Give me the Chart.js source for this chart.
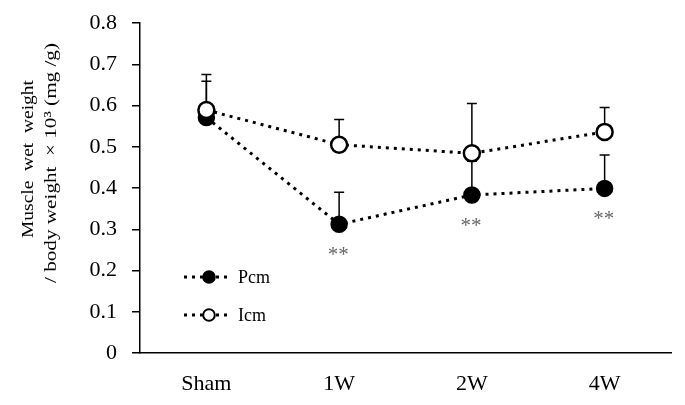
<!DOCTYPE html>
<html>
<head>
<meta charset="utf-8">
<script src="https://cdn.jsdelivr.net/npm/chart.js@4.4.0/dist/chart.umd.min.js"></script>
<style>
html,body{margin:0;padding:0;background:#fff;}
#wrap{width:685px;height:405px;position:relative;}
</style>
</head>
<body>
<div id="wrap"><canvas id="c" width="685" height="405"></canvas></div>
<script>
const categories = ["Sham", "1W", "2W", "4W"];
const pcmValues = [0.571, 0.312, 0.383, 0.399];
const pcmErrUpper = [0.659, 0.390, 0.465, 0.480];
const icmValues = [0.589, 0.505, 0.484, 0.536];
const icmErrUpper = [0.675, 0.566, 0.605, 0.595];
const pcmSignif = ["", "**", "**", "**"];
const yTicks = [0, 0.1, 0.2, 0.3, 0.4, 0.5, 0.6, 0.7, 0.8];
const seriesNames = ["Pcm", "Icm"];
const yTitleLines = ["Muscle  wet  weight", "/ body weight  \u00d7 10\u00b3 (mg /g)"];

const SERIF = '"Liberation Serif", "Times New Roman", serif';

function drawFitText(ctx, text, cx, cy, font, targetLen) {
  ctx.save();
  ctx.translate(cx, cy);
  ctx.rotate(-Math.PI / 2);
  ctx.font = font;
  const w = ctx.measureText(text).width;
  ctx.scale(targetLen / w, 1);
  ctx.textAlign = 'center';
  ctx.textBaseline = 'middle';
  ctx.fillStyle = '#000';
  ctx.fillText(text, 0, 0);
  ctx.restore();
}

const errorBarPlugin = {
  id: 'errBars',
  beforeDatasetsDraw(chart) {
    const ctx = chart.ctx;
    const x = chart.scales.x, y = chart.scales.y;
    const sets = [[pcmValues, pcmErrUpper], [icmValues, icmErrUpper]];
    ctx.save();
    ctx.strokeStyle = '#000';
    ctx.lineWidth = 1.5;
    sets.forEach(([vals, ups]) => {
      vals.forEach((v, i) => {
        const px = x.getPixelForValue(i);
        const y0 = y.getPixelForValue(v);
        const y1 = y.getPixelForValue(ups[i]);
        ctx.beginPath();
        ctx.moveTo(px, y0);
        ctx.lineTo(px, y1);
        ctx.moveTo(px - 5, y1);
        ctx.lineTo(px + 5, y1);
        ctx.stroke();
      });
    });
    ctx.restore();
  },
  afterDatasetsDraw(chart) {
    const ctx = chart.ctx;
    const x = chart.scales.x, y = chart.scales.y;
    ctx.save();
    // significance marks
    ctx.fillStyle = '#666';
    ctx.font = '21px ' + SERIF;
    ctx.textAlign = 'center';
    ctx.textBaseline = 'middle';
    pcmSignif.forEach((s, i) => {
      if (!s) return;
      const px = x.getPixelForValue(i);
      const py = y.getPixelForValue(pcmValues[i]);
      ctx.fillText(s, px - 1, py + 31);
    });
    // legend
    const items = [
      {name: seriesNames[0], fill: '#000', y: 277},
      {name: seriesNames[1], fill: '#fff', y: 315}
    ];
    items.forEach(it => {
      ctx.strokeStyle = '#000';
      ctx.lineWidth = 3;
      ctx.setLineDash([3, 5]);
      ctx.beginPath();
      ctx.moveTo(184, it.y);
      ctx.lineTo(232, it.y);
      ctx.stroke();
      ctx.setLineDash([]);
      ctx.beginPath();
      ctx.arc(209, it.y, 5.8, 0, Math.PI * 2);
      ctx.fillStyle = '#fff';
      ctx.fill();
      ctx.beginPath();
      ctx.arc(209, it.y, 5.8, 0, Math.PI * 2);
      ctx.fillStyle = it.fill;
      ctx.fill();
      ctx.lineWidth = 2;
      ctx.stroke();
      ctx.fillStyle = '#000';
      ctx.font = '18px ' + SERIF;
      ctx.textAlign = 'left';
      ctx.textBaseline = 'middle';
      ctx.fillText(it.name, 238, it.y + 1);
    });
    // y-axis title (two lines, rotated)
    drawFitText(ctx, yTitleLines[0], 29, 159, '17px ' + SERIF, 158);
    drawFitText(ctx, yTitleLines[1], 52, 163, '17px ' + SERIF, 240);
    ctx.restore();
  }
};

const commonLine = {
  borderColor: '#000',
  borderWidth: 3,
  borderDash: [3, 5],
  pointBorderColor: '#000',
  pointRadius: 8,
  pointHoverRadius: 8,
  tension: 0,
  fill: false
};

new Chart(document.getElementById('c'), {
  type: 'line',
  data: {
    labels: categories,
    datasets: [
      Object.assign({}, commonLine, {
        label: seriesNames[0],
        data: pcmValues,
        pointBackgroundColor: '#000',
        pointBorderWidth: 1.5,
        order: 1
      }),
      Object.assign({}, commonLine, {
        label: seriesNames[1],
        data: icmValues,
        pointBackgroundColor: '#fff',
        pointBorderWidth: 2.5,
        order: 0
      })
    ]
  },
  options: {
    responsive: false,
    animation: false,
    events: [],
    layout: {padding: {top: 23, right: 14, left: 0, bottom: 0}},
    plugins: {legend: {display: false}, tooltip: {enabled: false}},
    scales: {
      x: {
        offset: true,
        grid: {display: false, drawTicks: false},
        border: {display: true, color: '#000', width: 1.5},
        ticks: {color: '#000', font: {family: SERIF, size: 22}, padding: 18},
        afterFit(s) { s.height = 52; s.paddingLeft = 0; s.paddingRight = 0; }
      },
      y: {
        min: 0, max: 0.8,
        afterBuildTicks(s) { s.ticks = yTicks.map(v => ({value: v})); },
        grid: {display: true, drawOnChartArea: false, drawTicks: true, tickLength: 8, color: '#000', lineWidth: 1.5},
        border: {display: true, color: '#000', width: 1.5},
        ticks: {
          color: '#000', font: {family: SERIF, size: 22}, padding: 15,
          callback(v) { return v === 0 ? '0' : v.toFixed(1); }
        },
        afterFit(s) { s.width = 140; s.paddingTop = 0; s.paddingBottom = 0; }
      }
    }
  },
  plugins: [errorBarPlugin]
});
</script>
</body>
</html>
